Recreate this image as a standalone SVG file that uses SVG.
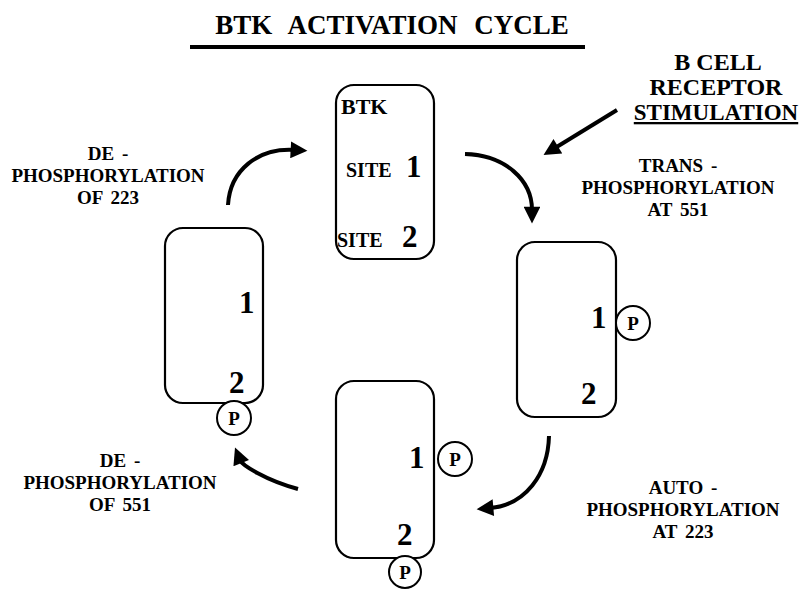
<svg xmlns="http://www.w3.org/2000/svg" width="803" height="589" viewBox="0 0 803 589">
<style>
text{font-family:"Liberation Serif","Times New Roman",serif;font-weight:bold;fill:#000}
.lbl{font-size:19px;text-anchor:middle;word-spacing:3px}
.box{fill:none;stroke:#000;stroke-width:2.2}
.num{font-size:31px}
.site{font-size:20px}
.pc{fill:#fff;stroke:#000;stroke-width:2}
.p{font-size:19px;text-anchor:middle}
.arc{fill:none;stroke:#000;stroke-width:4}
</style>
<defs>
<marker id="ah" viewBox="0 0 10 10" refX="2" refY="5" markerWidth="4.6" markerHeight="4.2" orient="auto" markerUnits="strokeWidth">
<path d="M0,0 L10,5 L0,10 z" fill="#000"/>
</marker>
</defs>
<g id="title">
<text x="392" y="34" font-size="27" text-anchor="middle" word-spacing="10">BTK ACTIVATION CYCLE</text>
<rect x="190" y="45" width="395" height="4" fill="#000"/>
</g>
<g id="node-top">
<rect class="box" x="336" y="85" width="98" height="174" rx="18"/>
<text x="341" y="114" font-size="22">BTK</text>
<text class="site" x="346" y="177">SITE</text>
<text class="num" x="406" y="177">1</text>
<text class="site" x="337" y="247">SITE</text>
<text class="num" x="402" y="247">2</text>
</g>
<g id="node-right">
<rect class="box" x="517" y="242" width="99" height="175" rx="18"/>
<text class="num" x="591" y="328">1</text>
<text class="num" x="581" y="404">2</text>
<circle class="pc" cx="633" cy="323" r="17"/>
<text class="p" x="633" y="330">P</text>
</g>
<g id="node-bottom">
<rect class="box" x="336" y="381" width="98" height="177" rx="18"/>
<text class="num" x="409" y="468">1</text>
<text class="num" x="397" y="545">2</text>
<circle class="pc" cx="455" cy="459" r="17"/>
<text class="p" x="455" y="466">P</text>
<circle class="pc" cx="405" cy="572" r="16"/>
<text class="p" x="405" y="579">P</text>
</g>
<g id="node-left">
<rect class="box" x="165" y="228" width="98" height="175" rx="18"/>
<text class="num" x="239" y="313">1</text>
<text class="num" x="229" y="393">2</text>
<circle class="pc" cx="234" cy="418" r="17"/>
<text class="p" x="234" y="425">P</text>
</g>
<g id="labels">
<text class="lbl" x="108" y="160">DE -</text>
<text class="lbl" x="108" y="182">PHOSPHORYLATION</text>
<text class="lbl" x="108" y="204">OF 223</text>
<text class="lbl" x="678" y="172">TRANS -</text>
<text class="lbl" x="678" y="194">PHOSPHORYLATION</text>
<text class="lbl" x="678" y="216">AT 551</text>
<text class="lbl" x="683" y="494">AUTO -</text>
<text class="lbl" x="683" y="516">PHOSPHORYLATION</text>
<text class="lbl" x="683" y="538">AT 223</text>
<text class="lbl" x="120" y="467">DE -</text>
<text class="lbl" x="120" y="489">PHOSPHORYLATION</text>
<text class="lbl" x="120" y="511">OF 551</text>
<text x="718" y="70" font-size="24" text-anchor="middle">B CELL</text>
<text x="716" y="95" font-size="24" text-anchor="middle">RECEPTOR</text>
<text x="716" y="120" font-size="23" text-anchor="middle" text-decoration="underline">STIMULATION</text>
</g>
<g id="connectors">
<path class="arc" d="M228,205 C230,170 258,148 294,150" marker-end="url(#ah)"/>
<path class="arc" d="M465,154 C505,155 532,180 532,210" marker-end="url(#ah)"/>
<path class="arc" d="M617,110 L555,148" marker-end="url(#ah)"/>
<path class="arc" d="M549,436 C548,475 525,505 490,508" marker-end="url(#ah)"/>
<path class="arc" d="M298,489 C265,480 242,465 240,460" marker-end="url(#ah)"/>
</g>
</svg>
